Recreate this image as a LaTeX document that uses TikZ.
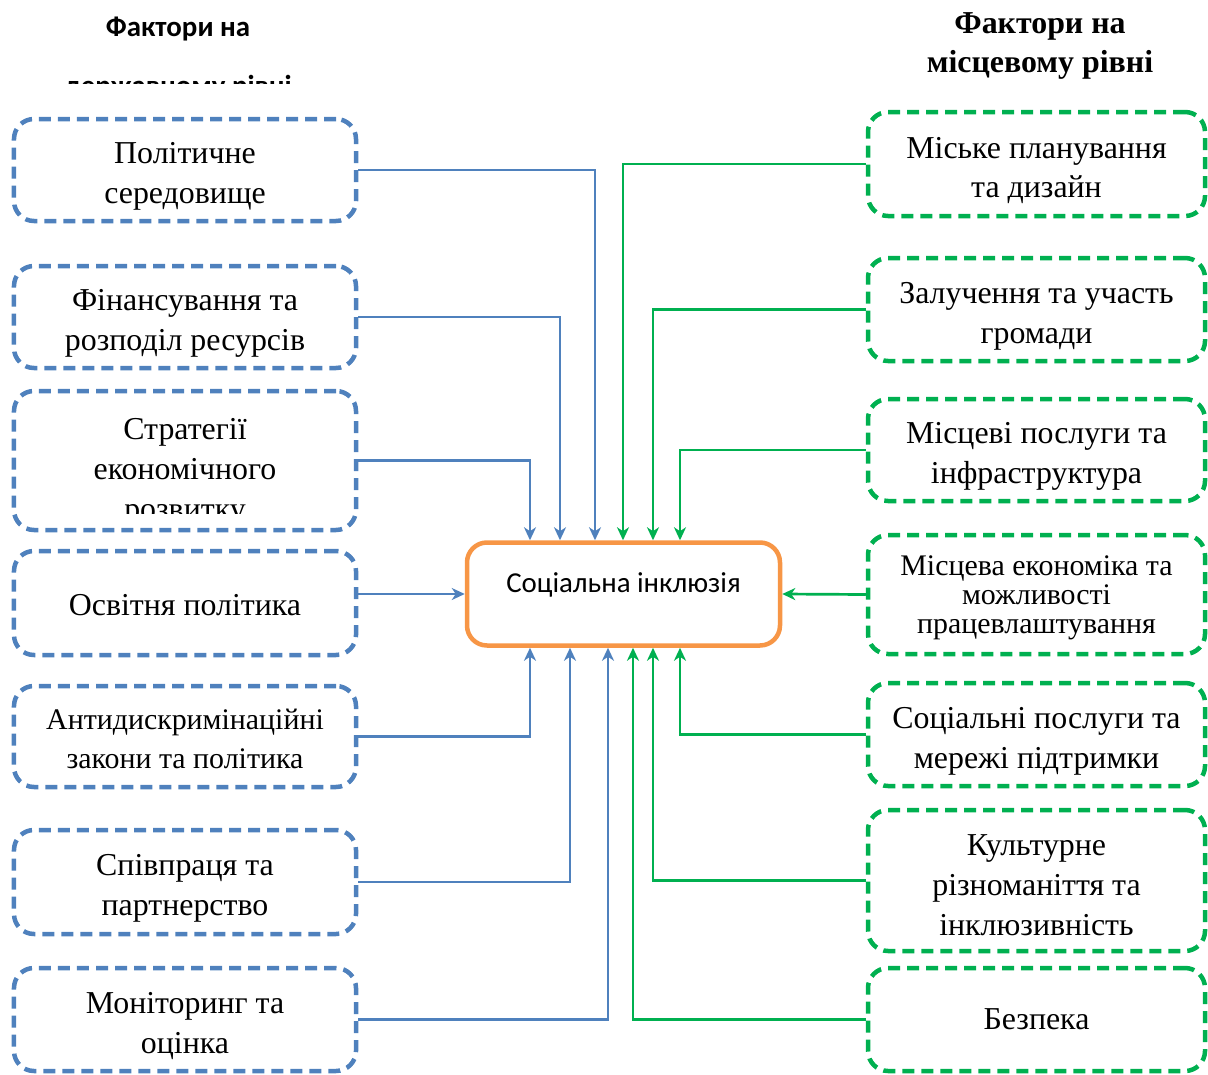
\documentclass[tikz,border=0pt]{standalone}
\usepackage{fontspec}
\setmainfont{Liberation Serif}
\newfontfamily\calibri{Carlito}
\usetikzlibrary{arrows.meta}
\definecolor{ofblue}{HTML}{4F81BD}
\definecolor{ofgreen}{HTML}{00B050}
\definecolor{oforange}{HTML}{F79646}

\begin{document}
\begin{tikzpicture}[x=1bp,y=-1bp,
	lift/.style={execute at begin node={\rule{0pt}{#1}}},
	lfac/.style={draw=ofblue,line width=4.5bp,dash pattern=on 12bp off 7bp,rounded corners=20bp,minimum width=342bp,align=center,inner sep=0,font=\fontsize{32}{40}\selectfont},
	rfac/.style={lfac,draw=ofgreen,minimum width=337bp},
	larr/.style={draw=ofblue,line width=2.7bp,-{Stealth[length=13bp,width=12bp,inset=4bp]}},
	rarr/.style={larr,draw=ofgreen}]
	\useasboundingbox (0,0) rectangle (1208,1075);
	% headings
	\begin{scope}
		\clip (0,0) rectangle (420,83);
		\node[font=\calibri\bfseries\fontsize{29}{59}\selectfont,align=center,inner sep=0,anchor=north] (h1) at (178,17) {Фактори на\\державному рівні};
	\end{scope}
	\node[font=\bfseries\fontsize{32}{40}\selectfont,align=center,inner sep=0,anchor=north] (h2) at (1040,12) {Фактори на\\місцевому рівні};
	% centre
	\node[draw=oforange,line width=4.5bp,rounded corners=20bp,fill=white,minimum width=313bp,minimum height=103bp,text height=19bp,text depth=23bp,font=\calibri\fontsize{29}{32}\selectfont] (0) at (623.5,594) {Соціальна інклюзія};
	% state level
	\node[lfac,minimum height=102bp,lift=74bp] (1) at (185,170) {Політичне\\середовище};
	\node[lfac,minimum height=102bp,lift=74bp] (2) at (185,317) {Фінансування та\\розподіл ресурсів};
	\node[lfac,minimum height=139bp] (3) at (185,460.5) {};
	\begin{scope}
		\clip (0,0) rectangle (420,513);
		\node[align=center,inner sep=0,font=\fontsize{32}{40}\selectfont,lift=113bp] (3t) at (185,466) {Стратегії\\економічного\\розвитку};
	\end{scope}
	\node[lfac,minimum height=104bp,lift=26bp] (4) at (185,603) {Освітня політика};
	\node[lfac,minimum height=101bp,font=\fontsize{30}{40}\selectfont,lift=65bp] (5) at (185,736.5) {Антидискримінаційні\\закони та політика};
	\node[lfac,minimum height=104bp,lift=74bp] (6) at (185,882) {Співпраця та\\партнерство};
	\node[lfac,minimum height=103bp,lift=74bp] (7) at (185,1019.5) {Моніторинг та\\оцінка};
	% local level
	\node[rfac,minimum height=104bp,lift=74bp] (8) at (1036.5,164) {Міське планування\\та дизайн};
	\node[rfac,minimum height=103bp,lift=74bp] (9) at (1036.5,309.5) {Залучення та участь\\громади};
	\node[rfac,minimum height=102bp,lift=74bp] (10) at (1036.5,450) {Місцеві послуги та\\інфраструктура};
	\node[rfac,minimum height=119bp,font=\fontsize{30}{29}\selectfont,lift=85bp] (11) at (1036.5,594.5) {Місцева економіка та\\можливості\\працевлаштування};
	\node[rfac,minimum height=103bp,lift=74bp] (12) at (1036.5,734.5) {Соціальні послуги та\\мережі підтримки};
	\node[rfac,minimum height=141bp,lift=110bp] (13) at (1036.5,880.5) {Культурне\\різноманіття та\\інклюзивність};
	\node[rfac,minimum height=103bp] (14) at (1036.5,1019.5) {Безпека};
	% entry points on the centre
	\coordinate (a1) at (530,0);
	\coordinate (a2) at (560,0);
	\coordinate (a3) at (595,0);
	\coordinate (a4) at (623,0);
	\coordinate (a5) at (653,0);
	\coordinate (a6) at (680,0);
	\coordinate (b1) at (530,0);
	\coordinate (b2) at (570,0);
	\coordinate (b3) at (608,0);
	\coordinate (b4) at (633,0);
	\coordinate (b5) at (653,0);
	\coordinate (b6) at (680,0);
	\draw[larr] (1.east) -| (a3 |- 0.north);
	\draw[larr] (2.east) -| (a2 |- 0.north);
	\draw[larr] (3.east) -| (a1 |- 0.north);
	\draw[larr] (4.east |- 0.west) -- (0.west);
	\draw[larr] (5.east) -| (b1 |- 0.south);
	\draw[larr] (6.east) -| (b2 |- 0.south);
	\draw[larr] (7.east) -| (b3 |- 0.south);
	\draw[rarr] (8.west) -| (a4 |- 0.north);
	\draw[rarr] (9.west) -| (a5 |- 0.north);
	\draw[rarr] (10.west) -| (a6 |- 0.north);
	\draw[rarr] (11.west) -- (0.east);
	\draw[rarr] (12.west) -| (b6 |- 0.south);
	\draw[rarr] (13.west) -| (b5 |- 0.south);
	\draw[rarr] (14.west) -| (b4 |- 0.south);
\end{tikzpicture}
\end{document}
